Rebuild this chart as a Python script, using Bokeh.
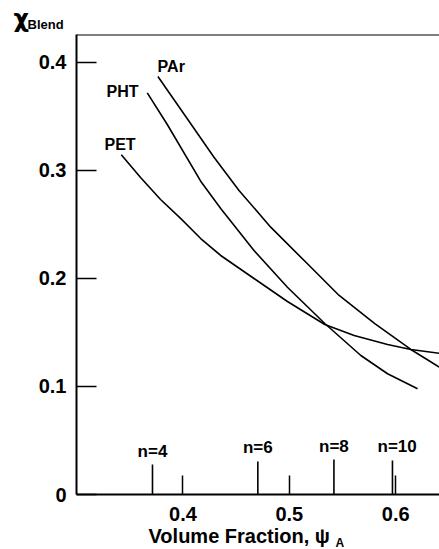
from bokeh.plotting import figure
from bokeh.models import Range1d, FixedTicker, LinearAxis, Title
from bokeh.core.properties import value
from bokeh.embed import file_html
from bokeh.resources import INLINE

# ---- data ----
par_x = [0.3765, 0.4041, 0.4292, 0.4527, 0.4825, 0.5170, 0.5468, 0.5803, 0.6142, 0.6408]
par_y = [0.3870, 0.3479, 0.3123, 0.2815, 0.2475, 0.2136, 0.1843, 0.1583, 0.1343, 0.1179]

pht_x = [0.3665, 0.3853, 0.4167, 0.4355, 0.4668, 0.4982, 0.5333, 0.5672, 0.5923, 0.6205]
pht_y = [0.3719, 0.3426, 0.2901, 0.2648, 0.2259, 0.1919, 0.1583, 0.1287, 0.1118, 0.0979]

pet_x = [0.3421, 0.3602, 0.3790, 0.3978, 0.4167, 0.4355, 0.4668, 0.4982, 0.5333, 0.5609, 0.5923, 0.6142, 0.6408]
pet_y = [0.3145, 0.2935, 0.2731, 0.2556, 0.2370, 0.2213, 0.2000, 0.1787, 0.1574, 0.1472, 0.1389, 0.1343, 0.1308]

series_names = ["PAr", "PHT", "PET"]
series_label_x = [0.3762, 0.3282, 0.3263]
series_label_y = [0.3963, 0.3731, 0.3241]

n_labels = ["n=4", "n=6", "n=8", "n=10"]
n_x = [0.3714, 0.4704, 0.5419, 0.5969]
n_h = [0.0278, 0.0306, 0.0324, 0.0315]
n_label_dx = [0.0, 0.0, 0.0, 0.0044]
n_label_y = [0.0398, 0.0435, 0.0444, 0.0444]

x_ticks = [0.4, 0.5, 0.6]
y_ticks = [0, 0.1, 0.2, 0.3, 0.4]

FONT = "Liberation Sans"
Y_END = 0.4259

p = figure(width=439, height=549, output_backend="svg", toolbar_location=None,
           x_range=Range1d(0.3, 0.6411), y_range=Range1d(0.0, Y_END),
           min_border_left=76, min_border_right=0, min_border_top=34, min_border_bottom=55)
p.background_fill_color = "white"
p.border_fill_color = "white"
p.outline_line_color = None
p.grid.visible = False

# axes
for ax in (p.xaxis[0], p.yaxis[0]):
    ax.axis_line_width = 2
    ax.axis_line_color = "black"
    ax.major_tick_out = 0
    ax.major_tick_line_width = 1.5
    ax.major_tick_line_color = "black"
    ax.minor_tick_line_color = None
    ax.major_label_text_font = FONT
    ax.major_label_text_font_style = "bold"
    ax.major_label_text_font_size = "20px"
    ax.major_label_text_color = "black"

p.xaxis.ticker = FixedTicker(ticks=x_ticks)
p.xaxis.major_tick_in = 19
p.xaxis.major_label_standoff = 12

p.yaxis.ticker = FixedTicker(ticks=y_ticks)
p.yaxis.major_tick_in = 20
p.yaxis.major_label_standoff = 10
p.yaxis.major_label_overrides = {0: "0"}

top = LinearAxis(ticker=FixedTicker(ticks=[]), axis_line_width=2, axis_line_color="black",
                 major_tick_line_color=None, minor_tick_line_color=None,
                 major_label_text_font_size="0px", fixed_location=Y_END)
p.add_layout(top, "above")

# titles (outside the frame)
p.add_layout(Title(text="χ", align="left", offset=-63, vertical_align="bottom", standoff=4,
                   text_font="DejaVu Sans", text_font_style="bold", text_font_size="24px",
                   text_color="black"), "above")
p.add_layout(Title(text="Blend", align="left", offset=-49, vertical_align="bottom", standoff=-62,
                   text_font=FONT, text_font_style="bold", text_font_size="13px",
                   text_color="black"), "above")
p.add_layout(Title(text="Volume Fraction, ψ", align="left", offset=72, vertical_align="bottom", standoff=-1,
                   text_font=FONT, text_font_style="bold", text_font_size="20px",
                   text_color="black"), "below")
p.add_layout(Title(text="A", align="left", offset=259, vertical_align="top", standoff=-22,
                   text_font=FONT, text_font_style="bold", text_font_size="12px",
                   text_color="black"), "below")

# curves
for xs, ys in ((par_x, par_y), (pht_x, pht_y), (pet_x, pet_y)):
    p.line(xs, ys, line_width=1.6, line_color="black", line_join="round")

p.text(x=series_label_x, y=series_label_y, text=series_names,
       text_font=value(FONT), text_font_style="bold", text_font_size="16px",
       text_align="left", text_baseline="middle", text_color="black")

# n markers
p.segment(x0=n_x, y0=[0] * len(n_x), x1=n_x, y1=n_h, line_width=1.6, line_color="black")
p.text(x=[a + b for a, b in zip(n_x, n_label_dx)], y=n_label_y, text=n_labels,
       text_font=value(FONT), text_font_style="bold", text_font_size="17px",
       text_align="center", text_baseline="middle", text_color="black")

open("out.html", "w").write(file_html(p, INLINE))
